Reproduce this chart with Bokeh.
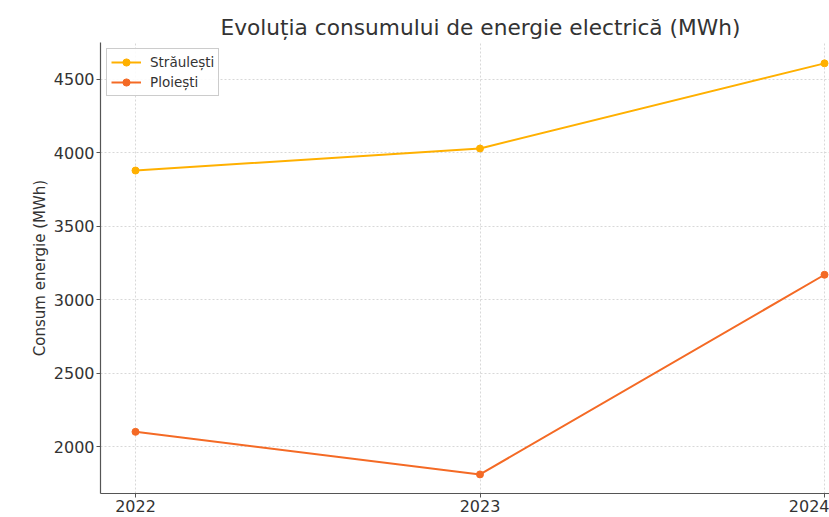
from bokeh.plotting import figure
from bokeh.models import Range1d, FixedTicker, Legend
from bokeh.embed import file_html
from bokeh.resources import INLINE

years = [2022, 2023, 2024]
straulesti = [3880, 4030, 4610]
ploiesti = [2100, 1810, 3170]
x_ticks = [2022, 2023, 2024]
y_ticks = [2000, 2500, 3000, 3500, 4000, 4500]

FONT = "DejaVu Sans"
C1 = "#FFB000"
C2 = "#F46A25"

p = figure(width=829, height=517, output_backend="svg", toolbar_location=None,
           x_range=Range1d(2021.8984, 2024.0145), y_range=Range1d(1680, 4752),
           min_border_left=100, min_border_right=0, min_border_top=42, min_border_bottom=24)

p.title.text = "Evoluția consumului de energie electrică (MWh)"
p.title.text_font = FONT
p.title.text_font_size = "21.7px"
p.title.text_font_style = "normal"
p.title.text_color = "#333333"
p.title.align = "left"
p.title.offset = 120
p.title.standoff = 6

p.outline_line_color = None
p.background_fill_color = "white"
p.border_fill_color = "white"

l1 = p.line(years, straulesti, line_color=C1, line_width=2)
s1 = p.scatter(years, straulesti, marker="circle", size=7, fill_color=C1, line_color=C1)
l2 = p.line(years, ploiesti, line_color=C2, line_width=2)
s2 = p.scatter(years, ploiesti, marker="circle", size=7, fill_color=C2, line_color=C2)

legend = Legend(items=[("Străulești", [l1, s1]), ("Ploiești", [l2, s2])],
                location="top_left")
legend.label_text_font = FONT
legend.label_text_font_size = "13.5px"
legend.label_text_color = "#333333"
legend.border_line_color = "#cccccc"
legend.border_line_alpha = 1
legend.margin = 6
legend.padding = 4
legend.spacing = 2
legend.glyph_width = 30
legend.glyph_height = 18
legend.label_height = 18
legend.label_standoff = 9
legend.background_fill_alpha = 0.9
p.add_layout(legend)

for ax in (p.xaxis, p.yaxis):
    ax.axis_line_color = "#555555"
    ax.axis_line_width = 1.2
    ax.major_tick_line_color = "#555555"
    ax.major_tick_out = 4
    ax.major_tick_in = 0
    ax.minor_tick_line_color = None
    ax.major_label_text_font = FONT
    ax.major_label_text_font_size = "16px"
    ax.major_label_text_color = "#333333"

p.xaxis.ticker = FixedTicker(ticks=x_ticks)
p.yaxis.ticker = FixedTicker(ticks=y_ticks)
p.xaxis.major_label_standoff = 2
p.yaxis.major_label_standoff = 2

p.yaxis.axis_label = "Consum energie (MWh)"
p.yaxis.axis_label_text_font = FONT
p.yaxis.axis_label_text_font_size = "15px"
p.yaxis.axis_label_text_font_style = "normal"
p.yaxis.axis_label_text_color = "#333333"
p.yaxis.axis_label_standoff = 2

for g in (p.xgrid, p.ygrid):
    g.grid_line_color = "#d8d8d8"
    g.grid_line_dash = "2 2"
    g.grid_line_width = 1
p.xgrid.ticker = FixedTicker(ticks=x_ticks)
p.ygrid.ticker = FixedTicker(ticks=y_ticks)

open("out.html", "w").write(file_html(p, INLINE))
